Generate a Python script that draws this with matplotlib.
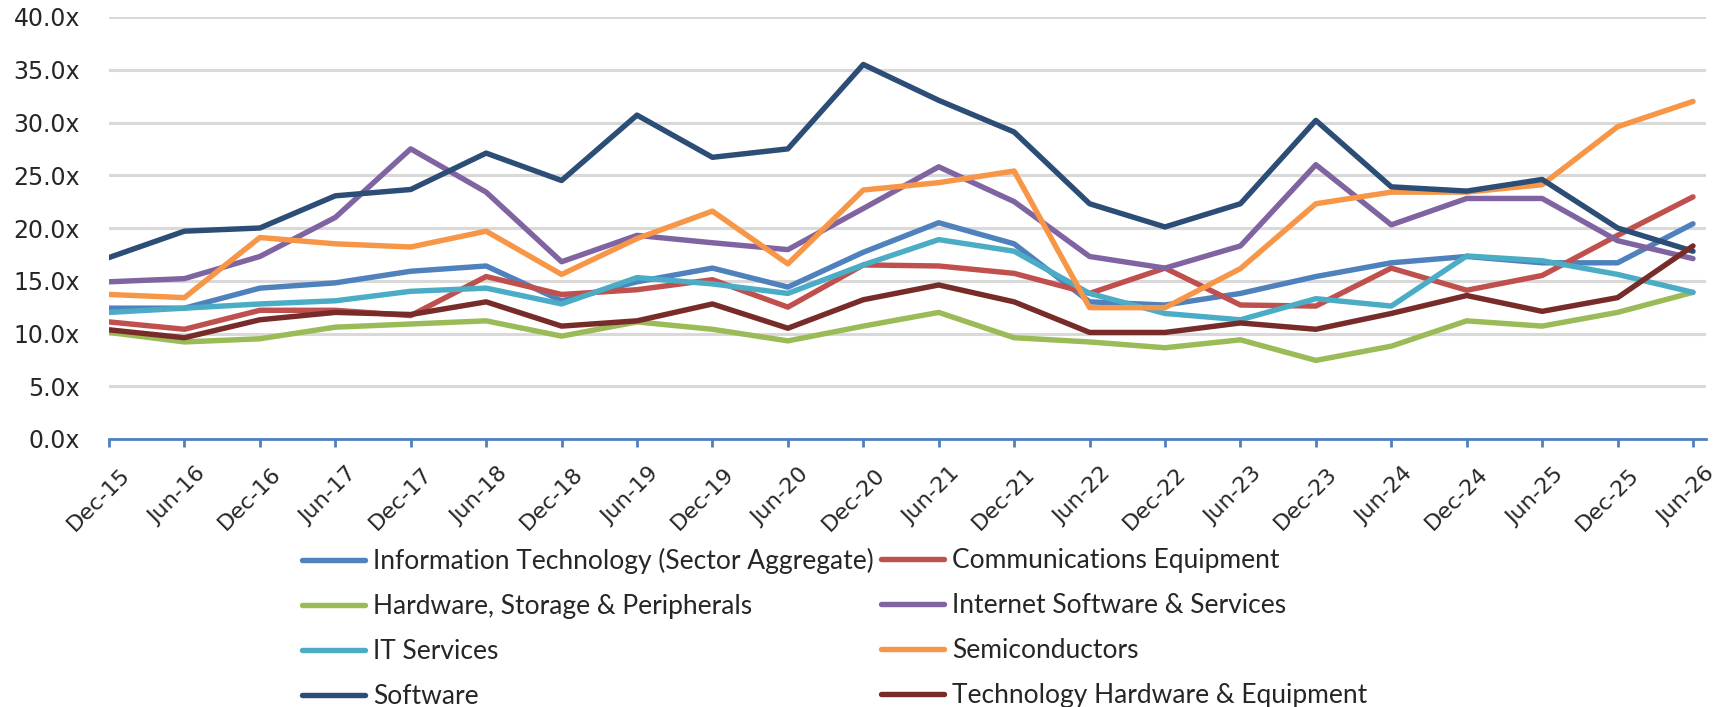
import matplotlib
matplotlib.use("Agg")
import matplotlib.pyplot as plt
from matplotlib.transforms import ScaledTranslation
from matplotlib.lines import Line2D

dates = ["Dec-15", "Jun-16", "Dec-16", "Jun-17", "Dec-17", "Jun-18", "Dec-18", "Jun-19",
         "Dec-19", "Jun-20", "Dec-20", "Jun-21", "Dec-21", "Jun-22", "Dec-22", "Jun-23",
         "Dec-23", "Jun-24", "Dec-24", "Jun-25", "Dec-25", "Jun-26"]

it_aggregate = [12.4, 12.4, 14.3, 14.8, 15.9, 16.4, 13.1, 14.9, 16.2, 14.4, 17.7, 20.5,
                18.5, 13.0, 12.7, 13.8, 15.4, 16.7, 17.3, 16.7, 16.7, 20.4]
comm_equipment = [11.1, 10.4, 12.2, 12.2, 11.7, 15.4, 13.7, 14.15, 15.1, 12.5, 16.5, 16.4,
                  15.7, 13.8, 16.2, 12.7, 12.6, 16.2, 14.1, 15.5, 19.3, 22.95]
hardware_storage = [10.1, 9.2, 9.5, 10.6, 10.9, 11.2, 9.75, 11.1, 10.4, 9.3, 10.7, 12.0,
                    9.6, 9.2, 8.65, 9.4, 7.45, 8.8, 11.2, 10.7, 12.0, 13.9]
internet_software = [14.9, 15.2, 17.3, 21.0, 27.5, 23.4, 16.8, 19.3, 18.6, 17.95, 21.85, 25.8,
                     22.5, 17.3, 16.2, 18.3, 26.0, 20.3, 22.8, 22.8, 18.8, 17.1]
it_services = [12.0, 12.4, 12.8, 13.1, 14.0, 14.3, 12.8, 15.3, 14.7, 13.8, 16.5, 18.9,
               17.8, 13.8, 11.9, 11.3, 13.3, 12.6, 17.35, 16.9, 15.6, 13.9]
semiconductors = [13.7, 13.4, 19.1, 18.5, 18.2, 19.7, 15.6, 19.0, 21.6, 16.6, 23.6, 24.3,
                  25.4, 12.45, 12.45, 16.15, 22.3, 23.4, 23.4, 24.1, 29.6, 32.0]
software = [17.2, 19.7, 20.0, 23.05, 23.65, 27.1, 24.5, 30.7, 26.7, 27.5, 35.5, 32.1,
            29.1, 22.3, 20.1, 22.3, 30.2, 23.9, 23.5, 24.6, 20.0, 17.8]
tech_hardware = [10.35, 9.6, 11.3, 12.0, 11.8, 13.0, 10.7, 11.2, 12.8, 10.5, 13.2, 14.6,
                 13.0, 10.1, 10.1, 11.0, 10.4, 11.9, 13.6, 12.1, 13.4, 18.3]

series_names = ["Information Technology (Sector Aggregate)", "Communications Equipment",
                "Hardware, Storage & Peripherals", "Internet Software & Services",
                "IT Services", "Semiconductors", "Software",
                "Technology Hardware & Equipment"]
series_values = [it_aggregate, comm_equipment, hardware_storage, internet_software,
                 it_services, semiconductors, software, tech_hardware]
colors = ["#4F81BD", "#C0504D", "#9BBB59", "#8064A2", "#4BACC6", "#F79646",
          "#2C4D75", "#772C2A"]
y_ticks = [0, 5, 10, 15, 20, 25, 30, 35, 40]

W, H = 1720, 707
fig = plt.figure(figsize=(W / 100, H / 100), dpi=100)
ax = fig.add_axes([109 / W, (H - 439) / H, (1706 - 109) / W, (439 - 17) / H])

x = list(range(len(dates)))
lw = 3.9
for name, vals, c in zip(series_names, series_values, colors):
    ax.plot(x, vals, color=c, lw=lw, solid_joinstyle="round", solid_capstyle="round",
            label=name, zorder=3)

ax.set_ylim(0, 40)
ax.set_xlim(0, 21 + 13 / 75.43)
ax.set_yticks(y_ticks)
ax.set_yticklabels([f"{v:.1f}x" for v in y_ticks], fontsize=17, color="#262626",
                   family="DejaVu Sans")
ax.yaxis.grid(True, color="#D9D9D9", lw=2.2, zorder=0)
ax.tick_params(axis="y", length=0, pad=21)

for s in ["top", "right", "left"]:
    ax.spines[s].set_visible(False)
ax.spines["bottom"].set_color("#4F81BD")
ax.spines["bottom"].set_linewidth(2)
ax.spines["bottom"].set_zorder(4)

ax.set_xticks(x)
ax.set_xticklabels(dates, fontsize=16, color="#262626", family="DejaVu Sans",
                   rotation=45, ha="right", va="top", rotation_mode="anchor")
ax.tick_params(axis="x", length=6, width=2, color="#4F81BD", direction="out", pad=12)
off = ScaledTranslation(11 / 100, 0, fig.dpi_scale_trans)
for lab in ax.get_xticklabels():
    lab.set_transform(lab.get_transform() + off)

# legend as two columns
handles = [Line2D([], [], color=c, lw=lw, solid_capstyle="round") for c in colors]
fs = 19
common = dict(frameon=False, handlelength=2.39, handletextpad=0.3,
              labelspacing=0.755, borderpad=0, borderaxespad=0,
              prop={"family": "Lato", "size": fs})
col1 = [0, 2, 4, 6]
col2 = [1, 3, 5, 7]
top = (H - 548) / H
leg1 = fig.legend([handles[i] for i in col1], [series_names[i] for i in col1],
                  loc="upper left", bbox_to_anchor=(302 / W, top), **common)
leg2 = fig.legend([handles[i] for i in col2], [series_names[i] for i in col2],
                  loc="upper left", bbox_to_anchor=(881 / W, top), **common)
for leg in (leg1, leg2):
    for t in leg.get_texts():
        t.set_color("#262626")

fig.savefig("out.png", dpi=100)
